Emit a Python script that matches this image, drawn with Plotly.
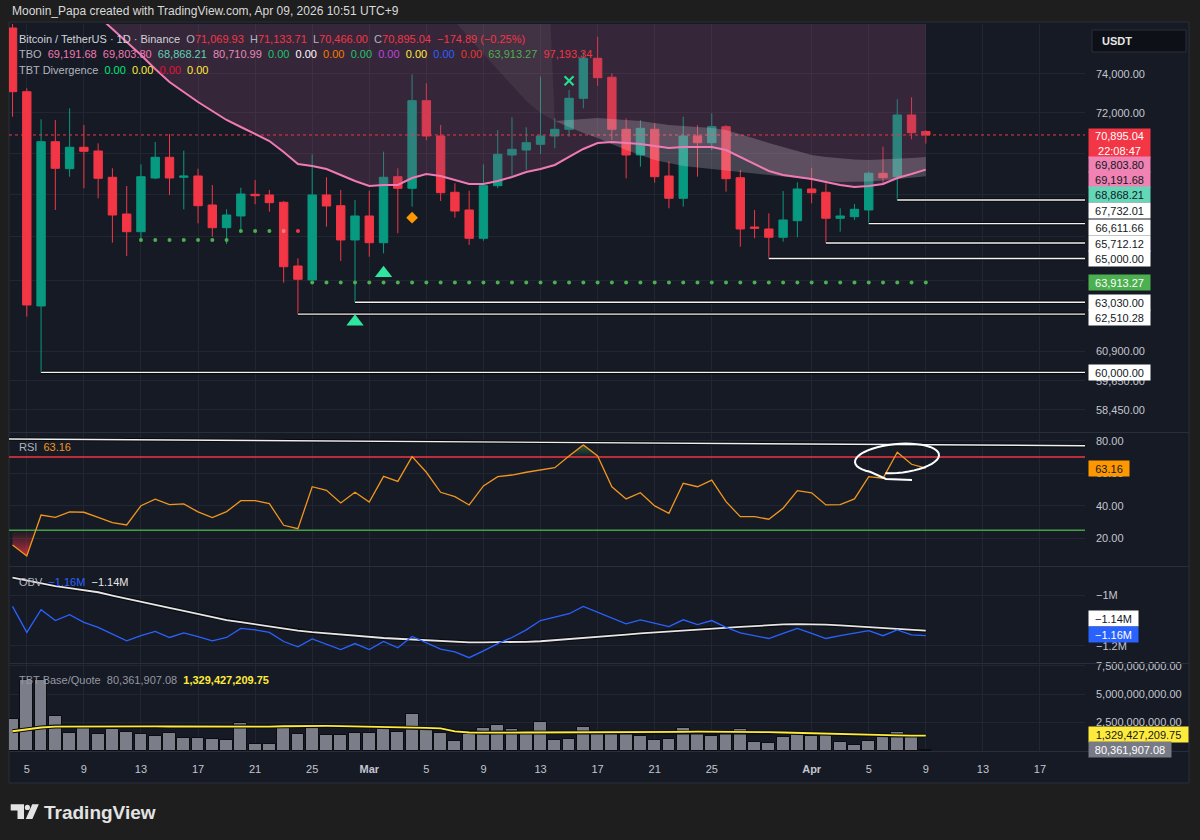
import numpy as np
import pandas as pd
import plotly.graph_objects as go

FONT = "Liberation Sans, Arial, sans-serif"

# ---------------- data ----------------
dates = pd.date_range("2026-02-04", "2026-04-09", freq="D")

open_ = [76431, 73085, 62867, 70562, 69236, 70285, 70102, 68818, 67066, 66237, 68784, 69792, 68818,
         68881, 67491, 66423, 66972, 68001, 67968, 67620, 64659, 64026, 67968, 67458, 65852,
         66972, 65727, 68847, 68288, 72625, 70845, 68097, 67255, 65930, 68413, 69905, 70151, 70433,
         70845, 71179, 72747, 74821, 73829, 71179, 69905, 71179, 68881, 67810, 70845, 70512, 71310,
         68799, 66456, 66363, 65977, 66751,
         68255, 68097, 66864, 66939, 67255, 69012, 68847, 71898, 71069.93]
high = [76754, 73260, 71681, 71646, 72238, 71395, 70482, 69255, 68399, 69450, 70547, 70945, 70117,
        69236, 68447, 67288, 68317, 68688, 68207, 67682, 65010, 69940, 68818, 68207, 67729,
        68173, 70068, 69255, 73984, 73518, 71395, 68529, 68173, 69450, 71144, 71782, 71280, 73860,
        71732, 73173, 75169, 75965, 74036, 71732, 71646, 71480, 69577, 71812, 71395, 71984, 71395,
        69172, 67255, 67099, 68159, 68577,
        69284, 68529, 67335, 67539, 69090, 70314, 72696, 72798, 71133.71]
low = [71812, 62396, 60000, 67255, 68847, 68288, 67810, 65727, 65115, 65773, 68722, 67968, 67288,
       66629, 66005, 65667, 66237, 67525, 67174, 63905, 62510.28, 63995, 66470, 64887, 63030,
       65083, 65239, 66162, 67411, 70631, 67682, 66892, 65621, 65819, 68288, 68896, 69172, 69955,
       70235, 70810, 72238, 73379, 70646, 68770, 69333, 68558, 67335, 67411, 68847, 70151, 68125,
       65542, 65930, 65000, 65773, 65977,
       67572, 65712.12, 66237, 66784, 66611.66, 68447, 67732.01, 70681, 70466.00]
close = [73085, 62911, 70562, 69255, 70285, 70087, 68770, 67019, 66237, 68847, 69792, 68784, 68881,
         67458, 66423, 67019, 68015, 67934, 67601, 64627, 64058, 67968, 67444, 65852, 66972,
         65727, 68818, 68288, 72625, 70845, 68077, 67207, 65930, 68413, 69940, 70186, 70512, 70845,
         71179, 72747, 74821, 73808, 71179, 69905, 71229, 68847, 67810, 70845, 70512, 71310, 68751,
         66363, 66395, 65977, 66784, 68255,
         68077, 66864, 66972, 67288, 69012, 68799, 71898, 71010, 70895.04]

# TBO fast line (pink)
tbo_fast = [81307, 80511, 79723, 78998, 78334, 77677, 77078, 76377, 75683, 74995, 74260, 73585, 73070,
            72558, 72101, 71646, 71295, 70945, 70596, 70053, 69465, 69367, 69221, 68930, 68640,
            68399, 68447, 68447, 68784, 68978, 68881, 68688, 68495, 68495, 68640, 68833, 69075, 69221,
            69416, 69807, 70200, 70497, 70547, 70497, 70448, 70349, 70250, 70299, 70299, 70299, 70151,
            69807, 69465, 69124, 68930, 68833,
            68736, 68591, 68447, 68351, 68399, 68495, 68784, 68978, 69191.68]
CLOUD_CEILING = 90000
# light wedge (Mar 6 - Mar 14)
wedge_lower = [77677, 76754, 75896, 75047, 74208, 73379, 72609, 71999, 71596]
wedge_upper = [CLOUD_CEILING] * 8 + [71596]
# whitish cloud (Mar 14 - Apr 9)
band_upper = [71596, 71646, 71722, 71747, 71697, 71646, 71596, 71495, 71395, 71345, 71295, 71245, 71144,
              70945, 70721, 70497, 70299, 70102, 69905, 69807, 69734, 69685, 69660, 69685, 69709, 69758,
              69803.80]
band_lower = [71596, 71295, 70995, 70746, 70448, 70151, 69905, 69660, 69513, 69367, 69294, 69221, 69148,
              69075, 68978, 68905, 68833, 68760, 68688, 68640, 68591, 68591, 68616, 68664, 68737, 68809,
              68868.21]

dots_a_level = 65852      # Feb 13 - Feb 19
dots_b_level = 66266      # Feb 20 - Feb 24
dots_b_colors = ["#4caf50", "#4caf50", "#4caf50", "#f77c80", "#f23645"]
dots_c_level = 63913.27   # Feb 25 - Apr 9

support_starts = ["2026-02-06", "2026-02-24", "2026-02-28", "2026-03-29", "2026-04-02", "2026-04-05", "2026-04-07"]
support_levels = [60000.00, 62510.28, 63030.00, 65000.00, 65712.12, 66611.66, 67732.01]

tri_dates = ["2026-02-28", "2026-03-02"]
tri_prices = [62177, 64329]
diamond_date, diamond_price = "2026-03-04", 66892
cross_date, cross_price = "2026-03-15", 73652

rsi = [15.9, 9.1, 34.3, 32.9, 36.2, 36.0, 32.9, 29.6, 28.2, 40.0, 44.0, 40.7, 41.1, 36.2, 32.7, 36.4,
       43.1, 43.1, 41.3, 28.0, 25.9, 51.7, 49.5, 41.7, 48.3,
       42.3, 58.1, 55.0, 70.2, 60.6, 48.3, 45.6, 40.5, 52.2, 57.9, 58.9, 60.6, 62.0, 63.4, 70.6, 77.4,
       70.6, 51.7, 44.2, 48.0, 39.9, 35.4, 53.8, 51.7, 55.8, 42.5, 33.3, 33.3, 31.7, 38.5, 49.3,
       48.0, 40.5, 40.7, 44.2, 57.9, 56.9, 72.9, 65.5, 63.16]
rsi_upper, rsi_lower = 70, 25

obv = [-1.044, -1.147, -1.057, -1.100, -1.077, -1.107, -1.127, -1.153, -1.180, -1.160, -1.143, -1.167,
       -1.149, -1.164, -1.180, -1.167, -1.131, -1.137, -1.147, -1.183, -1.204, -1.173, -1.193, -1.215,
       -1.191,
       -1.215, -1.183, -1.208, -1.163, -1.187, -1.213, -1.224, -1.247, -1.220, -1.191, -1.167, -1.137,
       -1.100, -1.087, -1.073, -1.044, -1.068, -1.092, -1.113, -1.097, -1.112, -1.124, -1.097, -1.116,
       -1.100, -1.127, -1.149, -1.160, -1.171, -1.151, -1.131,
       -1.151, -1.171, -1.160, -1.151, -1.140, -1.160, -1.137, -1.157, -1.160]
obv_ma = [-0.930, -0.942, -0.954, -0.964, -0.972, -0.980, -0.988, -1.001, -1.014, -1.026, -1.038, -1.050,
          -1.062, -1.074, -1.086, -1.098, -1.106, -1.115, -1.123, -1.131, -1.140, -1.146, -1.151, -1.156,
          -1.160,
          -1.165, -1.169, -1.172, -1.175, -1.178, -1.181, -1.183, -1.186, -1.186, -1.186, -1.185, -1.184,
          -1.182, -1.178, -1.174, -1.169, -1.165, -1.160, -1.156, -1.151, -1.147, -1.142, -1.138, -1.135,
          -1.132, -1.129, -1.125, -1.122, -1.118, -1.115, -1.114,
          -1.114, -1.116, -1.119, -1.122, -1.127, -1.131, -1.134, -1.137, -1.140]

volume_b = [2.79, 6.22, 6.26, 3.06, 1.53, 2.02, 1.44, 1.91, 1.62, 1.44, 1.29, 1.55, 1.09, 1.14, 1.05,
            0.96, 2.41, 0.56, 0.58, 2.02, 1.47, 2.06, 1.40, 1.40, 1.53,
            1.53, 1.97, 1.67, 3.21, 1.82, 1.53, 0.82, 1.44, 2.02, 2.24, 1.91, 1.47, 2.55, 0.91, 1.02,
            2.11, 1.75, 1.53, 1.53, 1.29, 0.94, 1.02, 2.00, 1.47, 1.26, 1.44, 1.93, 0.79, 0.67, 1.23, 1.53,
            1.32, 1.38, 0.76, 0.49, 0.85, 1.29, 1.67, 1.38, 0.08036190708]
vol_ma_b = [1.71, 1.89, 2.04, 2.12, 2.13, 2.15, 2.16, 2.17, 2.16, 2.16, 2.14, 2.13, 2.12, 2.11, 2.11,
            2.11, 2.11, 2.11, 2.12, 2.15, 2.18, 2.20, 2.18, 2.17, 2.15,
            2.12, 2.08, 2.06, 2.04, 2.01, 1.96, 1.69, 1.60, 1.58, 1.59, 1.59, 1.60, 1.60, 1.60, 1.61,
            1.61, 1.62, 1.63, 1.64, 1.64, 1.65, 1.65, 1.66, 1.67, 1.67, 1.67, 1.67, 1.65, 1.63, 1.60, 1.56,
            1.52, 1.48, 1.44, 1.40, 1.38, 1.36, 1.34, 1.33, 1.32942720975]

tick_dates = pd.to_datetime(["2026-02-05", "2026-02-09", "2026-02-13", "2026-02-17", "2026-02-21",
                             "2026-02-25", "2026-03-01", "2026-03-05", "2026-03-09", "2026-03-13",
                             "2026-03-17", "2026-03-21", "2026-03-25", "2026-04-01", "2026-04-05",
                             "2026-04-09", "2026-04-13", "2026-04-17"])
tick_text = ["5", "9", "13", "17", "21", "25", "<b>Mar</b>", "5", "9", "13", "17", "21", "25",
             "<b>Apr</b>", "5", "9", "13", "17"]
# grid levels of the price scale; only these labels are not hidden behind value badges
price_ticks = [74000, 72000, 70000, 68000, 66000, 64000, 60900, 59650, 58450]
price_labels_shown = [74000, 72000, 60900, 59650, 58450]
rsi_ticks = [20, 40, 60, 80]
obv_ticks = [-1.2, -1.0]
obv_tick_text = ["\u22121.2M", "\u22121M"]
vol_ticks = [2.5, 5.0, 7.5]

# ---------------- geometry helpers ----------------
W, H = 1200, 840
ML, MR, MT, MB = 9, 115, 24, 88
PW, PH = W - ML - MR, H - MT - MB


def px_x(px):
    return (px - ML) / PW


def px_y(py):
    return (H - MB - py) / PH


X_LEFT = pd.Timestamp("2026-02-05") - pd.Timedelta(days=1.247)
X_RIGHT = pd.Timestamp("2026-02-05") + pd.Timedelta(days=74.155)

UP, DOWN = "#089981", "#f23645"
GRID = "#222633"
AXT = "#c3c6ce"
BG = "#161a25"

fig = go.Figure()


def sc(**kw):
    kw.setdefault("hoverinfo", "skip")
    kw.setdefault("showlegend", False)
    fig.add_trace(go.Scatter(**kw))


# ---------------- price pane ----------------
sc(x=dates, y=[CLOUD_CEILING] * len(dates), mode="lines", line=dict(width=0))
sc(x=dates, y=tbo_fast, mode="lines", line=dict(width=0), fill="tonexty",
   fillcolor="rgba(140,72,112,0.28)")
wd = dates[30:39]
sc(x=wd, y=wedge_upper, mode="lines", line=dict(width=0))
sc(x=wd, y=wedge_lower, mode="lines", line=dict(width=0), fill="tonexty",
   fillcolor="rgba(255,255,255,0.06)")

# current price dotted line
sc(x=[X_LEFT, X_RIGHT], y=[close[-1]] * 2, mode="lines",
   line=dict(color="#f23645", width=1, dash="dot"))

# support levels
for sd, lv in zip(support_starts, support_levels):
    sc(x=[pd.Timestamp(sd), X_RIGHT], y=[lv, lv], mode="lines", line=dict(color="#0a0b0f", width=3.5))
    sc(x=[pd.Timestamp(sd), X_RIGHT], y=[lv, lv], mode="lines", line=dict(color="#f2f2f2", width=1.4))

# dotted TBO levels
sc(x=dates[9:16], y=[dots_a_level] * 7, mode="markers", marker=dict(color="#4caf50", size=4))
sc(x=dates[16:21], y=[dots_b_level] * 5, mode="markers", marker=dict(color=dots_b_colors, size=4))
sc(x=dates[21:], y=[dots_c_level] * len(dates[21:]), mode="markers", marker=dict(color="#4caf50", size=4))

fig.add_trace(go.Candlestick(
    x=dates, open=open_, high=high, low=low, close=close,
    increasing=dict(line=dict(color=UP, width=1), fillcolor=UP),
    decreasing=dict(line=dict(color=DOWN, width=1), fillcolor=DOWN),
    whiskerwidth=0, showlegend=False, hoverinfo="skip"))

bd = dates[38:]
sc(x=bd, y=band_upper, mode="lines", line=dict(width=0))
sc(x=bd, y=band_lower, mode="lines", line=dict(width=0), fill="tonexty",
   fillcolor="rgba(232,222,238,0.22)")

sc(x=dates, y=tbo_fast, mode="lines", line=dict(color="#f07ab4", width=2))

sc(x=pd.to_datetime(tri_dates), y=tri_prices, mode="markers",
   marker=dict(symbol="triangle-up", size=15, color="#2ee6a0"))
sc(x=[pd.Timestamp(diamond_date)], y=[diamond_price], mode="markers",
   marker=dict(symbol="diamond", size=9, color="#ff9800"))
sc(x=[pd.Timestamp(cross_date)], y=[cross_price], mode="markers",
   marker=dict(symbol="x-thin", size=9, line=dict(color="#22e08f", width=2.2)))

# ---------------- RSI pane ----------------


def split_fill(xd, vals, level, below):
    t = xd.asi8 / 1e6
    xs, ys = [t[0]], [vals[0]]
    for i in range(1, len(vals)):
        a, b = vals[i - 1] - level, vals[i] - level
        if a * b < 0:
            f = a / (a - b)
            xs.append(t[i - 1] + f * (t[i] - t[i - 1]))
            ys.append(level)
        xs.append(t[i])
        ys.append(vals[i])
    ys = np.array(ys, dtype=float)
    cl = np.minimum(ys, level) if below else np.maximum(ys, level)
    return pd.to_datetime(np.array(xs), unit="ms"), cl


xs_lo, cl_lo = split_fill(dates, rsi, rsi_lower, True)
sc(x=xs_lo, y=[rsi_lower] * len(xs_lo), mode="lines", line=dict(width=0), yaxis="y2")
sc(x=xs_lo, y=cl_lo, mode="lines", line=dict(width=0), yaxis="y2", fill="tonexty",
   fillgradient=dict(type="vertical", colorscale=[[0, "rgba(242,54,69,0.75)"], [1, "rgba(242,54,69,0.0)"]]))
xs_hi, cl_hi = split_fill(dates, rsi, rsi_upper, False)
sc(x=xs_hi, y=[rsi_upper] * len(xs_hi), mode="lines", line=dict(width=0), yaxis="y2")
sc(x=xs_hi, y=cl_hi, mode="lines", line=dict(width=0), yaxis="y2", fill="tonexty",
   fillgradient=dict(type="vertical", colorscale=[[0, "rgba(76,175,80,0.0)"], [1, "rgba(76,175,80,0.45)"]]))

sc(x=[X_LEFT, X_RIGHT], y=[rsi_upper] * 2, mode="lines", line=dict(color="#f23645", width=1.5), yaxis="y2")
sc(x=[X_LEFT, X_RIGHT], y=[rsi_lower] * 2, mode="lines", line=dict(color="#43a047", width=1.5), yaxis="y2")
sc(x=dates, y=rsi, mode="lines", line=dict(color="#f0961e", width=1.3), yaxis="y2")

# ---------------- OBV pane ----------------
sc(x=dates, y=obv_ma, mode="lines", line=dict(color="#0a0b0f", width=4), yaxis="y3")
sc(x=dates, y=obv_ma, mode="lines", line=dict(color="#e6e6e6", width=1.8), yaxis="y3")
sc(x=dates, y=obv, mode="lines", line=dict(color="#2962ff", width=1.3), yaxis="y3")

# ---------------- Volume pane ----------------
fig.add_trace(go.Bar(x=dates, y=volume_b, width=0.9 * 86400000, yaxis="y4",
                     marker=dict(color="#7b7e89", line=dict(color="#0b0c11", width=1)),
                     showlegend=False, hoverinfo="skip"))
sc(x=dates, y=vol_ma_b, mode="lines", line=dict(color="#0a0b0f", width=4), yaxis="y4")
sc(x=dates, y=vol_ma_b, mode="lines", line=dict(color="#ffeb3b", width=1.8), yaxis="y4")

# ---------------- shapes ----------------
shapes = []
shapes.append(dict(type="rect", xref="paper", yref="paper", x0=px_x(9), x1=px_x(1189),
                   y0=px_y(783), y1=px_y(22), fillcolor=BG, line=dict(color="#2a2e39", width=1),
                   layer="below"))
for sy in (432.5, 566.5, 663.5):
    shapes.append(dict(type="line", xref="paper", yref="paper", x0=px_x(9), x1=px_x(1189),
                       y0=px_y(sy), y1=px_y(sy), line=dict(color="#2a2e39", width=1), layer="above"))
shapes.append(dict(type="line", xref="paper", yref="paper", x0=px_x(9), x1=px_x(1189),
                   y0=px_y(751.5), y1=px_y(751.5), line=dict(color="#2a2e39", width=1), layer="above"))
# USDT box
shapes.append(dict(type="rect", xref="paper", yref="paper", x0=px_x(1092), x1=px_x(1186),
                   y0=px_y(52), y1=px_y(30), fillcolor="#0e1017", line=dict(color="#2a2e39", width=1),
                   layer="above"))
# RSI trendline (user drawing)
for col, wdt in (("#0a0b0f", 3.5), ("#f0f0f0", 1.4)):
    shapes.append(dict(type="line", xref="paper", yref="paper", x0=px_x(9), x1=px_x(1085),
                       y0=px_y(439), y1=px_y(445.7), line=dict(color=col, width=wdt), layer="above"))
# hand drawn ellipse
pts = [(912, 480), (886, 479)]
for th in np.arange(130, 471, 8):
    r = np.radians(th)
    ex = 897 + 42 * np.cos(r)
    ey = 458.5 + 14.5 * np.sin(r) - (ex - 897) * 0.08
    pts.append((ex, ey))
path = "M " + " L ".join(f"{px_x(a):.5f},{px_y(b):.5f}" for a, b in pts)
shapes.append(dict(type="path", xref="paper", yref="paper", path=path,
                   line=dict(color="#ffffff", width=2), layer="above"))


def poly(points):
    return "M " + " L ".join(f"{px_x(a):.5f},{px_y(b):.5f}" for a, b in points) + " Z"


LOGO = "#e3e3e3"
shapes.append(dict(type="path", xref="paper", yref="paper",
                   path=poly([(10.7, 804.3), (24, 804.3), (24, 819), (17.5, 819), (17.5, 810.6), (10.7, 810.6)]),
                   fillcolor=LOGO, line=dict(width=0)))
shapes.append(dict(type="circle", xref="paper", yref="paper", x0=px_x(24.8), x1=px_x(30),
                   y0=px_y(810), y1=px_y(804.8), fillcolor=LOGO, line=dict(width=0)))
shapes.append(dict(type="path", xref="paper", yref="paper",
                   path=poly([(32.2, 804.3), (38.8, 804.3), (32.4, 819), (25.8, 819)]),
                   fillcolor=LOGO, line=dict(width=0)))

# ---------------- annotations ----------------
ann = []


def txt(px, py, text, size=11, color="#b2b5be", anchor="left"):
    ann.append(dict(x=px_x(px), y=px_y(py), xref="paper", yref="paper", xanchor=anchor, yanchor="middle",
                    text=text, showarrow=False, font=dict(family=FONT, size=size, color=color)))


def c(t, col):
    return f"<span style='color:{col}'>{t}</span>"


SP = "\u00a0\u00a0"
txt(10, 11, "Moonin_Papa created with TradingView.com, Apr 09, 2026 10:51 UTC+9", 12, "#d9d9d9")
RED = "#f23645"
line1 = (c("Bitcoin / TetherUS \u00b7 1D \u00b7 Binance", "#d1d4dc") + SP +
         "O" + c("71,069.93", RED) + SP + "H" + c("71,133.71", RED) + SP + "L" + c("70,466.00", RED) + SP +
         "C" + c("70,895.04", RED) + SP + c("\u2212174.89 (\u22120.25%)", RED))
txt(17, 39, line1, 11, "#b2b5be")
tbo_vals = [("69,191.68", "#f07ab4"), ("69,803.80", "#f07ab4"), ("68,868.21", "#5fd3b5"),
            ("80,710.99", "#e88ab8"), ("0.00", "#1fc46a"), ("0.00", "#ffffff"), ("0.00", "#f57c00"),
            ("0.00", "#1fc46a"), ("0.00", "#be46dc"), ("0.00", "#ffeb3b"), ("0.00", "#2962ff"),
            ("0.00", "#e53935"), ("63,913.27", "#4caf50"), ("97,193.34", "#f23645")]
txt(17, 54.5, "TBO" + SP + SP.join(c(v, col) for v, col in tbo_vals), 11, "#b2b5be")
div_vals = [("0.00", "#00e676"), ("0.00", "#ffeb3b"), ("0.00", "#e0103a"), ("0.00", "#ffeb3b")]
txt(17, 70, "TBT Divergence" + SP + SP.join(c(v, col) for v, col in div_vals), 11, "#b2b5be")
txt(17, 447, "RSI" + SP + c("63.16", "#f0961e"), 11, "#b2b5be")
txt(17, 582, "OBV" + SP + c("\u22121.16M", "#2962ff") + SP + c("\u22121.14M", "#e6e6e6"), 11, "#b2b5be")
txt(17, 680, "TBT Base/Quote" + SP + "80,361,907.08" + SP + c("<b>1,329,427,209.75</b>", "#ffeb3b"),
    11, "#9598a1")
txt(1100, 41, "<b>USDT</b>", 11, "#e6e6e6")
txt(42, 812, "<b>TradingView</b>", 19, "#e3e3e3")


def badge(text, yval, yref, bg, fg, shift=0, w=59, h=13, log=False, yanchor="middle"):
    yv = np.log10(yval) if log else yval
    ann.append(dict(x=px_x(1088), xref="paper", xanchor="left", y=yv, yref=yref, yanchor=yanchor,
                    yshift=shift, text=text, showarrow=False, bgcolor=bg, borderpad=1, width=w, height=h,
                    align="center", valign="middle", font=dict(family=FONT, size=11, color=fg)))


DARK = "#131722"
badge("70,895.04<br>22:08:47", close[-1], "y", "#f23645", "#ffffff", shift=7, h=27, log=True, yanchor="top")
badge("69,803.80", band_upper[-1], "y", "#f082b4", DARK, shift=-7.6, log=True)
badge("69,191.68", tbo_fast[-1], "y", "#f082b4", DARK, shift=-9.7, log=True)
badge("68,868.21", band_lower[-1], "y", "#64d7b9", DARK, shift=-18.7, log=True)
sup_shift = {67732.01: -10.9, 66611.66: -3.5, 62510.28: -3.7}
for lv in support_levels:
    badge(f"{lv:,.2f}", lv, "y", "#ffffff", DARK, shift=sup_shift.get(lv, 0), log=True)
badge(f"{dots_c_level:,.2f}", dots_c_level, "y", "#4caf50", "#ffffff", log=True)
badge("63.16", rsi[-1], "y2", "#ff9800", DARK, w=38)
badge("\u22121.14M", obv_ma[-1], "y3", "#ffffff", DARK, shift=11.7, w=47)
badge("\u22121.16M", obv[-1], "y3", "#2962ff", "#ffffff", shift=1.5, w=47)
badge("1,329,427,209.75", vol_ma_b[-1], "y4", "#ffeb3b", DARK, shift=1.5, w=97)
badge("80,361,907.08", volume_b[-1], "y4", "#787b86", "#ffffff", w=80)

# ---------------- layout ----------------
tf = dict(family=FONT, size=11, color=AXT)
common_y = dict(side="right", anchor="x", showgrid=True, gridcolor=GRID, gridwidth=1, zeroline=False,
                showline=False, ticks="", tickfont=tf, ticklabelstandoff=10, fixedrange=True)
fig.update_layout(
    width=W, height=H, margin=dict(l=ML, r=MR, t=MT, b=MB, pad=0),
    paper_bgcolor="#1e1e1e", plot_bgcolor="rgba(0,0,0,0)", showlegend=False,
    boxgap=0.16, bargap=0, hovermode=False,
    xaxis=dict(domain=[0, 1], type="date", range=[X_LEFT, X_RIGHT], anchor="y4",
               tickvals=tick_dates, ticktext=tick_text, showgrid=True, gridcolor=GRID, gridwidth=1,
               zeroline=False, showline=False, ticks="", tickfont=tf, ticklabelstandoff=9,
               rangeslider=dict(visible=False), fixedrange=True),
    yaxis=dict(domain=[px_y(432), px_y(24)], type="log",
               range=[np.log10(57539), np.log10(76646)],
               tickvals=price_ticks,
               ticktext=[f"{v:,.2f}" if v in price_labels_shown else "" for v in price_ticks], **common_y),
    yaxis2=dict(domain=[px_y(566), px_y(433)], range=[2.97, 84.73],
                tickvals=rsi_ticks, ticktext=[f"{v:.2f}" for v in rsi_ticks], **common_y),
    yaxis3=dict(domain=[px_y(663), px_y(567)], range=[-1.268, -0.888],
                tickvals=obv_ticks, ticktext=obv_tick_text, **common_y),
    yaxis4=dict(domain=[px_y(752), px_y(664)], range=[-0.124, 7.65],
                tickvals=vol_ticks, ticktext=[f"{v * 1e9:,.2f}" for v in vol_ticks], **common_y),
    shapes=shapes, annotations=ann,
)

fig.write_html("out.html")
